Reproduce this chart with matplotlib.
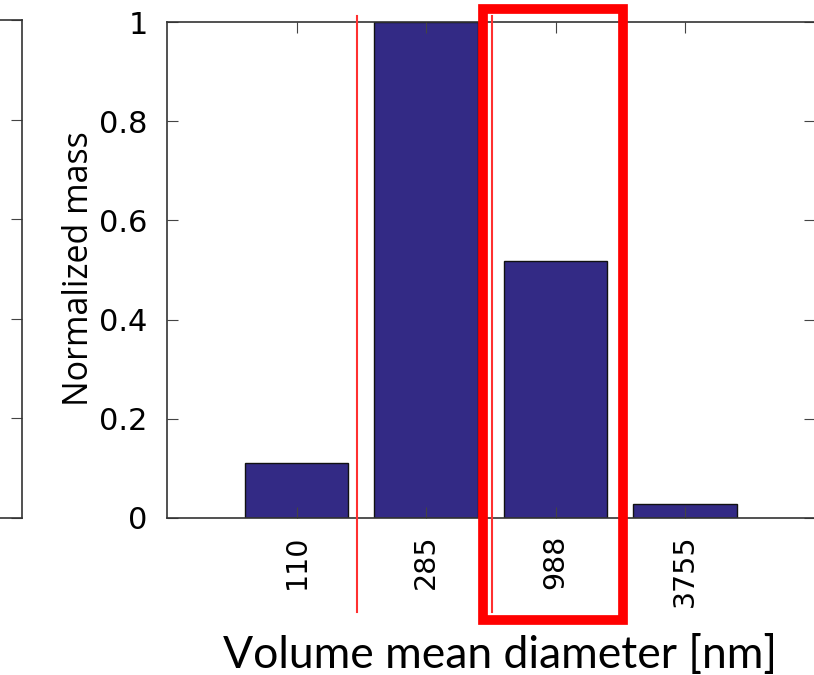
import numpy as np
import matplotlib.pyplot as plt
from matplotlib.patches import Rectangle
from matplotlib.lines import Line2D

# data
diametros = ['110', '285', '988', '3755']
massa = [0.111, 1.0, 0.518, 0.028]
yticks = [0, 0.2, 0.4, 0.6, 0.8, 1]
ylabels = ['0', '0.2', '0.4', '0.6', '0.8', '1']

cor_barra = '#332a85'
plt.rcParams['font.family'] = ['DejaVu Sans']

fig = plt.figure(figsize=(8.14, 6.75), dpi=100)

# painel da esquerda (cortado)
ax0 = fig.add_axes([-0.5, 0.2326, 0.5275, 0.7378])
ax0.set_ylim(0, 1)
ax0.set_yticks(yticks)
ax0.set_xticks([])
ax0.yaxis.tick_right()
ax0.tick_params(axis='y', direction='in', length=8, labelright=False, color='#444444')
for s in ax0.spines.values():
    s.set_color('#333333')
    s.set_linewidth(1.2)

# painel principal
ax = fig.add_axes([0.2052, 0.2326, 0.7955, 0.7348])
x = np.arange(1, len(diametros) + 1)
ax.bar(x, massa, width=0.8, color=cor_barra, edgecolor='#111111', linewidth=1.0)
ax.set_xlim(0, 5)
ax.set_ylim(0, 1)
ax.set_xticks(x)
ax.set_xticklabels(diametros, rotation=90, fontsize=20.5)
ax.set_yticks(yticks)
ax.set_yticklabels(ylabels, fontsize=22)
ax.tick_params(axis='y', pad=14)
ax.tick_params(axis='x', pad=12)
ax.tick_params(direction='in', length=8, top=True, right=True, color='#444444')
for s in ax.spines.values():
    s.set_color('#333333')
    s.set_linewidth(1.2)
ax.set_ylabel('Normalized mass', fontsize=24.5, family='Open Sans')
ax.yaxis.set_label_coords(-0.109, 0.503)
ax.set_xlabel('Volume mean diameter [nm]', fontsize=32, family='Lato')
ax.xaxis.set_label_coords(0.5147, -0.235)

# marcações vermelhas
W, H = 814, 675
def fx(px):
    return px / W
def fy(py):
    return 1 - py / H

for px in (357, 492):
    fig.add_artist(Line2D([fx(px), fx(px)], [fy(16), fy(612)], color='#ff3030',
                          linewidth=1.5, transform=fig.transFigure))
fig.add_artist(Rectangle((fx(483), fy(620)), fx(623) - fx(483), fy(9) - fy(620),
                         fill=False, edgecolor='#ff0000', linewidth=7,
                         transform=fig.transFigure))

fig.savefig('out.png', dpi=100)
